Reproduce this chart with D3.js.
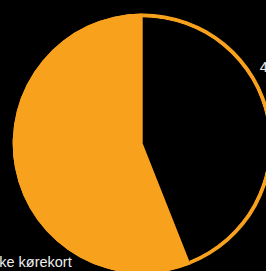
<!DOCTYPE html>
<html>
<head>
<meta charset="utf-8">
<script src="https://cdn.jsdelivr.net/npm/d3@7"></script>
<style>
  html, body { margin: 0; padding: 0; background: #000; }
</style>
</head>
<body>
<div id="chart"></div>
<script>
// data
var categories = ["Har kørekort", "Ikke kørekort"];
var values     = [44, 56];
var labels     = ["44 %", "Ikke kørekort"];

var width  = 266;
var height = 271;
var cx = 142.7, cy = 143.5;
var radius = 130;
var ring   = 4;

var svg = d3.select("#chart")
            .append("svg")
            .attr("width", width)
            .attr("height", height);

svg.append("rect")
    .attr("width", width)
    .attr("height", height)
    .style("fill", "#000");

var colour = d3.scaleOrdinal()
               .domain(categories)
               .range(["#000000", "#f7a11d"]);

var pie = d3.pie().sort(null).value(function(d) { return d; });
var arcs = pie(values);

var edge = d3.arc().innerRadius(radius - ring).outerRadius(radius);

var g = svg.append("g")
           .attr("transform", "translate(" + cx + "," + cy + ")");

// outline ring for the dark slice
g.selectAll("path.ring")
    .data(arcs)
    .enter()
      .append("path")
      .attr("class", "ring")
      .attr("d", edge)
      .style("fill", "#f7a11d");

g.selectAll("path.slice")
    .data(arcs)
    .enter()
      .append("path")
      .attr("class", "slice")
      .attr("d", function(d) {
        return d3.arc().innerRadius(0)
                 .outerRadius(d.index === 0 ? radius - ring : radius)(d);
      })
      .style("fill", function(d, i) { return colour(categories[i]); });

// labels
var labelPos = [[117, -71.5, "start"], [-71, 123.5, "end"]];

g.selectAll("text")
    .data(arcs)
    .enter()
      .append("text")
      .attr("x", function(d) { return labelPos[d.index][0]; })
      .attr("y", function(d) { return labelPos[d.index][1]; })
      .attr("text-anchor", function(d) { return labelPos[d.index][2]; })
      .attr("font-family", "'Liberation Sans', Arial, sans-serif")
      .attr("font-size", "14.5px")
      .attr("fill", "#eeeeee")
      .text(function(d) { return labels[d.index]; });
</script>
</body>
</html>
